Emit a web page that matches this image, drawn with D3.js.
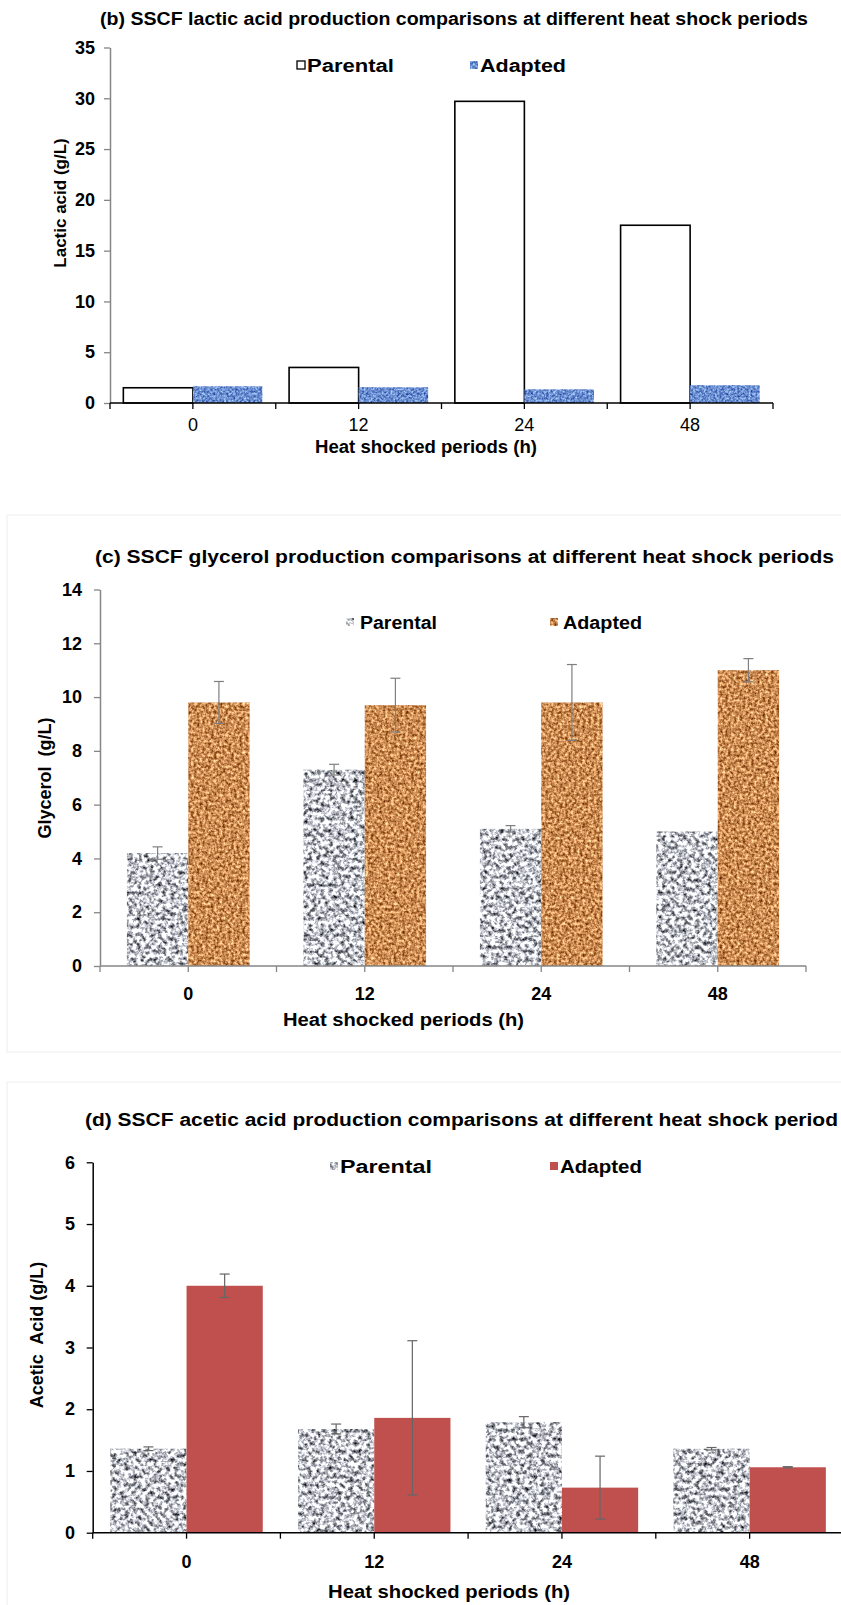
<!DOCTYPE html>
<head>
<meta charset="utf-8">
<style>
body { margin: 0; background: #fff; }
svg { display: block; }
.narrow { font-family: "Liberation Sans Narrow", "Arial Narrow", "Liberation Sans", Arial, sans-serif; }
.wide { font-family: "Liberation Sans", Arial, sans-serif; }
</style>
<script src="https://cdn.jsdelivr.net/npm/d3@7"></script>
</head>
<body>
<svg width="841" height="1605"></svg>
<script>

// ---- data ----
var periods = ["0", "12", "24", "48"];
var seriesNames = ["Parental", "Adapted"];

var lacticParental = [1.5, 3.5, 29.7, 17.5];
var lacticAdapted  = [1.65, 1.55, 1.35, 1.75];
var lacticTicks = [0, 5, 10, 15, 20, 25, 30, 35];

var glycerolParental    = [4.2, 7.3, 5.1, 5.0];
var glycerolParentalErr = [0.23, 0.2, 0.12, 0];
var glycerolAdapted     = [9.8, 9.7, 9.8, 11.0];
var glycerolAdaptedErr  = [0.78, 1.0, 1.41, 0.43];
var glycerolTicks = [0, 2, 4, 6, 8, 10, 12, 14];

var aceticParental    = [1.36, 1.68, 1.79, 1.36];
var aceticParentalErr = [0.03, 0.08, 0.09, 0.02];
var aceticAdapted     = [4.0, 1.86, 0.73, 1.06];
var aceticAdaptedErr  = [0.19, 1.25, 0.51, 0.01];
var aceticTicks = [0, 1, 2, 3, 4, 5, 6];

var svg = d3.select("svg");

// textures (noise filters clipped to the bar shape)
var defs = svg.append("defs");
function texture(id, freq, seed, m) {
  var f = defs.append("filter").attr("id", id)
      .attr("x", 0).attr("y", 0).attr("width", 1).attr("height", 1)
      .attr("color-interpolation-filters", "sRGB");
  f.append("feTurbulence").attr("type", "fractalNoise")
      .attr("baseFrequency", freq).attr("numOctaves", 3).attr("seed", seed);
  f.append("feColorMatrix").attr("type", "matrix").attr("values", m);
  f.append("feComposite").attr("in2", "SourceGraphic").attr("operator", "in");
}
texture("granite", 0.24, 7, "2.0 0 0 0 -0.23  2.0 0 0 0 -0.22  2.0 0 0 0 -0.19  0 0 0 0 1");
texture("cork",    0.35, 3, "1.1 0 0 0 0.25  1.1 0 0 0 0.0  1.0 0 0 0 -0.17  0 0 0 0 1");
texture("water",   0.45, 5, "0.9 0 0 0 -0.03  0.9 0 0 0 0.11  0.6 0 0 0 0.52  0 0 0 0 1");

// faint panel frames (c and d)
svg.append("rect").attr("x", 7).attr("y", 515).attr("width", 840).attr("height", 537)
    .attr("fill", "none").attr("stroke", "#eeeeee");
svg.append("rect").attr("x", 7).attr("y", 1082).attr("width", 840).attr("height", 540)
    .attr("fill", "none").attr("stroke", "#eeeeee");

function drawChart(o) {
  var g = svg.append("g");

  var x0 = d3.scaleBand().domain(periods).range(o.xr)
      .paddingInner(o.pad).paddingOuter(o.pad / 2);
  var x1 = d3.scaleBand().domain(seriesNames).range([0, x0.bandwidth()]);
  var y = d3.scaleLinear().domain([0, d3.max(o.yTicks)]).range(o.yr);

  // title
  g.append("text").attr("class", "narrow")
      .attr("x", o.title[1]).attr("y", o.title[3])
      .attr("textLength", o.title[2] - o.title[1]).attr("lengthAdjust", "spacingAndGlyphs")
      .style("font-size", "18px").style("font-weight", "bold")
      .text(o.title[0]);

  // bars
  o.series.forEach(function(s, si) {
    var sg = g.append("g");
    sg.selectAll("rect").data(s.values).enter().append("rect")
        .attr("x", function(d, i) { return x0(periods[i]) + x1(seriesNames[si]); })
        .attr("y", function(d) { return y(d); })
        .attr("width", x1.bandwidth())
        .attr("height", function(d) { return y(0) - y(d); })
        .attr("fill", s.fill)
        .attr("stroke", s.stroke || "none")
        .attr("stroke-width", 1.6)
        .attr("filter", s.filter ? "url(#" + s.filter + ")" : null);
    if (s.err) {
      var eg = g.append("g").attr("stroke", o.errColor).attr("stroke-width", 1.2);
      s.values.forEach(function(v, i) {
        var e = s.err[i];
        if (!e) return;
        var cx = x0(periods[i]) + x1(seriesNames[si]) + x1.bandwidth() / 2;
        eg.append("line").attr("x1", cx).attr("x2", cx).attr("y1", y(v + e)).attr("y2", y(v - e));
        eg.append("line").attr("x1", cx - 5).attr("x2", cx + 5).attr("y1", y(v + e)).attr("y2", y(v + e));
        eg.append("line").attr("x1", cx - 5).attr("x2", cx + 5).attr("y1", y(v - e)).attr("y2", y(v - e));
      });
    }
  });

  // y axis
  var ya = g.append("g").attr("transform", "translate(" + o.xr[0] + ",0)")
      .call(d3.axisLeft(y).tickValues(o.yTicks).tickFormat(d3.format("d"))
        .tickSize(6).tickSizeOuter(0).tickPadding(o.yPad));
  ya.select(".domain").attr("stroke", o.yAxisColor).attr("stroke-width", 1.5);
  ya.selectAll(".tick line").attr("stroke", o.yAxisColor).attr("stroke-width", 1.3);
  ya.selectAll(".tick text").attr("class", "wide").attr("fill", "#000")
      .style("font-size", "18px").style("font-weight", "bold");

  // x axis
  var xa = g.append("g").attr("transform", "translate(0," + o.yr[0] + ")")
      .call(d3.axisBottom(x0).tickSize(6).tickSizeOuter(0).tickPadding(o.xPad));
  xa.select(".domain").attr("stroke", o.xAxisColor).attr("stroke-width", 1.5)
      .attr("d", "M" + o.xr[0] + ",0H" + o.xr[1]);
  xa.selectAll(".tick line").attr("stroke", o.xAxisColor).attr("stroke-width", 1.3);
  xa.selectAll(".tick text").attr("class", "narrow").attr("fill", "#000")
      .style("font-size", "18px").style("font-weight", o.xTickWeight);
  var bounds = periods.map(function(p) { return x0(p) - x0.step() * o.pad / 2; });
  bounds.push(o.xr[1]);
  xa.selectAll(".bound").data(bounds).enter().append("line")
      .attr("x1", function(d) { return d; }).attr("x2", function(d) { return d; })
      .attr("y1", 0).attr("y2", 6)
      .attr("stroke", o.xAxisColor).attr("stroke-width", 1.3);

  // axis titles
  g.append("text").attr("class", "wide")
      .attr("transform", "translate(" + o.yLabel[1] + "," + o.yLabel[2] + ") rotate(-90)")
      .attr("text-anchor", "middle").attr("dy", "0.35em")
      .style("font-size", o.yLabel[3] + "px").style("font-weight", "bold")
      .style("white-space", "pre")
      .text(o.yLabel[0]);
  g.append("text").attr("class", "narrow")
      .attr("x", o.xTitle[1]).attr("y", o.xTitle[3])
      .attr("textLength", o.xTitle[2] - o.xTitle[1]).attr("lengthAdjust", "spacingAndGlyphs")
      .style("font-size", "18px").style("font-weight", "bold")
      .text(o.xTitle[0]);

  // legend
  o.legend.forEach(function(l, i) {
    var s = o.series[i];
    g.append("rect").attr("x", l[0]).attr("y", o.legendY - 4).attr("width", 8).attr("height", 8)
        .attr("fill", s.fill).attr("stroke", s.stroke || "none").attr("stroke-width", 1.3)
        .attr("filter", s.filter ? "url(#" + s.filter + ")" : null);
    g.append("text").attr("class", "narrow")
        .attr("x", l[1]).attr("y", o.legendY + 6.5)
        .attr("textLength", l[2] - l[1]).attr("lengthAdjust", "spacingAndGlyphs")
        .style("font-size", "18px").style("font-weight", "bold")
        .text(seriesNames[i]);
  });
}

// (b) lactic acid
drawChart({
  title: ["(b) SSCF lactic acid production  comparisons  at different  heat shock periods", 100, 808, 25],
  xr: [110, 773], yr: [403, 47.5], pad: 0.161, yTicks: lacticTicks,
  yPad: 9, xPad: 9.5, xTickWeight: "normal",
  yAxisColor: "#868686", xAxisColor: "#000",
  yLabel: ["Lactic acid (g/L)", 60, 203, 17],
  xTitle: ["Heat shocked periods  (h)", 315, 537, 453],
  legendY: 65, legend: [[297, 307, 394], [470, 480, 566]],
  errColor: "#7f7f7f",
  series: [
    {values: lacticParental, fill: "#fff", stroke: "#000"},
    {values: lacticAdapted, fill: "#6a8fd0", filter: "water"}
  ]
});

// (c) glycerol
drawChart({
  title: ["(c) SSCF glycerol  production  comparisons  at different  heat shock periods", 95, 834, 563],
  xr: [100, 806], yr: [966, 589.5], pad: 0.305, yTicks: glycerolTicks,
  yPad: 12, xPad: 15, xTickWeight: "bold",
  yAxisColor: "#868686", xAxisColor: "#868686",
  yLabel: ["Glycerol  (g/L)", 45, 778, 18],
  xTitle: ["Heat shocked  periods  (h)", 283, 524, 1026],
  legendY: 622, legend: [[346, 360, 437], [550, 563, 642]],
  errColor: "#7f7f7f",
  series: [
    {values: glycerolParental, err: glycerolParentalErr, fill: "#c0c0c0", filter: "granite"},
    {values: glycerolAdapted, err: glycerolAdaptedErr, fill: "#c8874f", filter: "cork"}
  ]
});

// (d) acetic acid
drawChart({
  title: ["(d) SSCF acetic  acid  production  comparisons  at different  heat shock period", 85, 838, 1126],
  xr: [92.7, 843.5], yr: [1532.7, 1162.3], pad: 0.188, yTicks: aceticTicks,
  yPad: 11.7, xPad: 16.5, xTickWeight: "bold",
  yAxisColor: "#000", xAxisColor: "#000",
  yLabel: ["Acetic  Acid (g/L)", 37, 1335, 18],
  xTitle: ["Heat shocked  periods  (h)", 328, 570, 1598],
  legendY: 1166, legend: [[330, 340, 432], [550, 560, 642]],
  errColor: "#666666",
  series: [
    {values: aceticParental, err: aceticParentalErr, fill: "#c0c0c0", filter: "granite"},
    {values: aceticAdapted, err: aceticAdaptedErr, fill: "#c0504d"}
  ]
});

</script>
</body>
</html>
